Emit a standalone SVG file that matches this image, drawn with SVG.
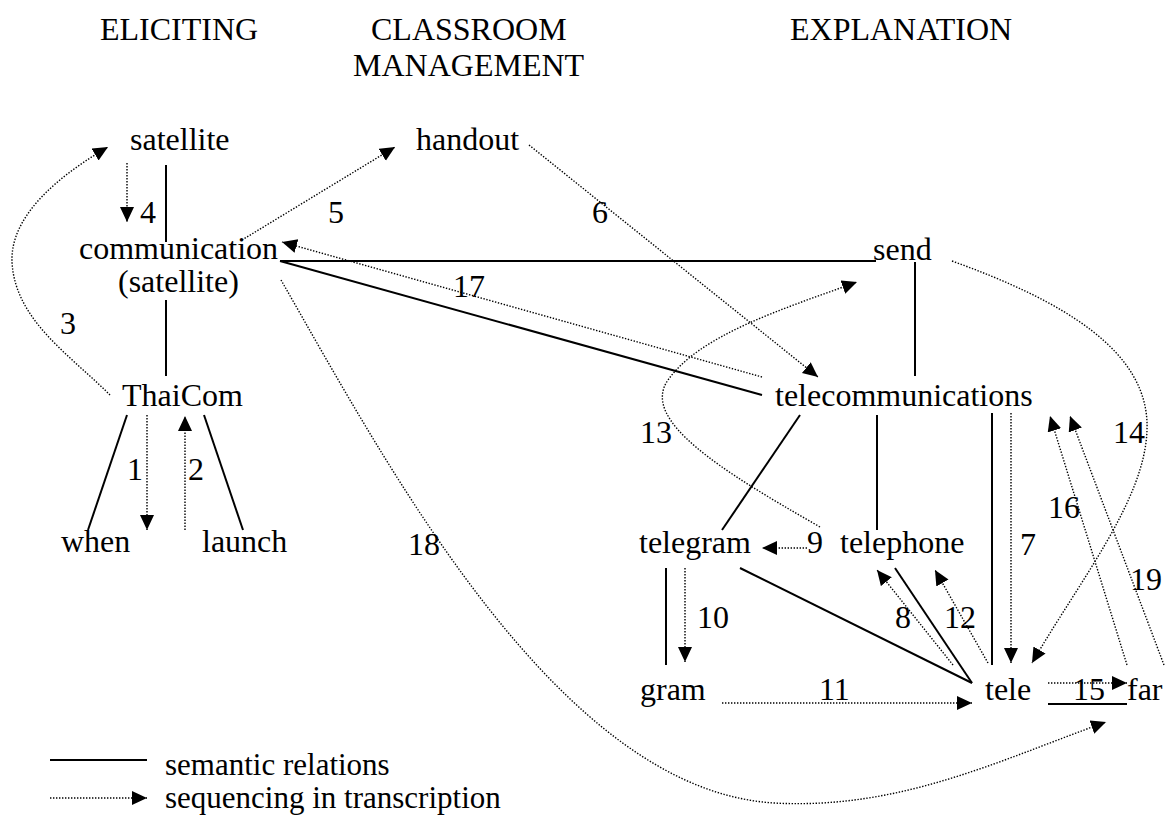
<svg xmlns="http://www.w3.org/2000/svg" width="1165" height="816" viewBox="0 0 1165 816" font-family="'Liberation Serif', 'Times New Roman', 'DejaVu Serif', serif">
<style>
text{font-family:'Liberation Serif','Times New Roman','DejaVu Serif',serif;font-size:32px;fill:#000}
.s{stroke:#000;stroke-width:2;fill:none}
.d{stroke:#000;stroke-width:1.4;fill:none;stroke-dasharray:1.4 1.6}
.a{marker-end:url(#ah)}
.lg{font-size:31px}
</style>
<defs>
<marker id="ah" markerUnits="userSpaceOnUse" markerWidth="16" markerHeight="16" refX="15" refY="7" orient="auto">
<path d="M0,0 L15,7 L0,14 z" fill="#000"/>
</marker>
</defs>
<rect width="1165" height="816" fill="#fff"/>
<g id="headers">
<text x="100" y="40">ELICITING</text>
<text x="371" y="40">CLASSROOM</text>
<text x="353" y="76">MANAGEMENT</text>
<text x="790" y="40">EXPLANATION</text>
</g>
<g id="connectors">
<line class="s" x1="166" y1="165" x2="166" y2="242"/>
<line class="s" x1="166" y1="300" x2="166" y2="376"/>
<line class="s" x1="127" y1="415" x2="88" y2="530"/>
<line class="s" x1="204" y1="415" x2="243" y2="530"/>
<line class="s" x1="280" y1="261" x2="876" y2="261"/>
<line class="s" x1="915" y1="262" x2="915" y2="376"/>
<line class="s" x1="280" y1="261" x2="762" y2="395"/>
<line class="s" x1="800" y1="415" x2="722" y2="530"/>
<line class="s" x1="877" y1="415" x2="877" y2="530"/>
<line class="s" x1="992" y1="413" x2="992" y2="665"/>
<line class="s" x1="666" y1="568" x2="666" y2="665"/>
<line class="s" x1="740" y1="568" x2="972" y2="683"/>
<line class="s" x1="895" y1="568" x2="972" y2="683"/>
<line class="s" x1="1048" y1="704" x2="1127" y2="704"/>
<line class="d a" x1="147" y1="415" x2="147" y2="530"/>
<line class="d a" x1="185" y1="530" x2="185" y2="416"/>
<path class="d a" d="M110,395 C70,355 15,320 12,262 C10,215 60,175 108,147"/>
<line class="d a" x1="127" y1="163" x2="127" y2="222"/>
<line class="d a" x1="242" y1="240" x2="395" y2="147"/>
<line class="d a" x1="529" y1="145" x2="818" y2="377"/>
<line class="d a" x1="1011" y1="413" x2="1011" y2="663"/>
<line class="d a" x1="953" y1="665" x2="877" y2="570"/>
<line class="d a" x1="807" y1="548" x2="762" y2="548"/>
<line class="d a" x1="685" y1="568" x2="685" y2="662"/>
<line class="d a" x1="722" y1="703" x2="972" y2="703"/>
<line class="d a" x1="988" y1="663" x2="935" y2="570"/>
<path class="d a" d="M820,527 C720,470 640,420 668,380 C700,335 780,310 857,282"/>
<path class="d a" d="M952,261 C1060,300 1150,350 1147,430 C1145,500 1080,580 1032,663"/>
<line class="d a" x1="1048" y1="683" x2="1127" y2="683"/>
<line class="d a" x1="1127" y1="665" x2="1050" y2="416"/>
<line class="d a" x1="762" y1="377" x2="282" y2="242"/>
<path class="d a" d="M281,280 C390,470 560,790 774,803 C900,810 1000,760 1106,722"/>
<line class="d a" x1="1164" y1="665" x2="1070" y2="416"/>
</g>
<g id="labels">
<text x="60" y="334">3</text>
<text x="140" y="223">4</text>
<text x="328" y="223">5</text>
<text x="592" y="223">6</text>
<text x="127" y="480">1</text>
<text x="188" y="480">2</text>
<text x="453" y="297">17</text>
<text x="640" y="443">13</text>
<text x="1113" y="443">14</text>
<text x="1048" y="518">16</text>
<text x="1020" y="555">7</text>
<text x="807" y="553">9</text>
<text x="1130" y="590">19</text>
<text x="697" y="628">10</text>
<text x="895" y="628">8</text>
<text x="944" y="628">12</text>
<text x="819" y="700">11</text>
<text x="1073" y="700">15</text>
<text x="408" y="555">18</text>
</g>
<g id="n-satellite"><text x="130" y="150">satellite</text></g>
<g id="n-handout"><text x="416" y="150">handout</text></g>
<g id="n-communication"><text x="79" y="259">communication</text><text x="118" y="292">(satellite)</text></g>
<g id="n-send"><text x="873" y="260">send</text></g>
<g id="n-thaicom"><text x="122" y="406">ThaiCom</text></g>
<g id="n-telecommunications"><text x="775" y="406">telecommunications</text></g>
<g id="n-when"><text x="61" y="552">when</text></g>
<g id="n-launch"><text x="202" y="552">launch</text></g>
<g id="n-telegram"><text x="639" y="553">telegram</text></g>
<g id="n-telephone"><text x="840" y="553">telephone</text></g>
<g id="n-gram"><text x="640" y="700">gram</text></g>
<g id="n-tele"><text x="985" y="700">tele</text></g>
<g id="n-far"><text x="1127" y="700">far</text></g>
<g id="legend">
<line class="s" x1="50" y1="760" x2="147" y2="760"/>
<line class="d a" x1="50" y1="798" x2="147" y2="798"/>
<text class="lg" x="165" y="775">semantic relations</text>
<text class="lg" x="165" y="808">sequencing in transcription</text>
</g>
</svg>
